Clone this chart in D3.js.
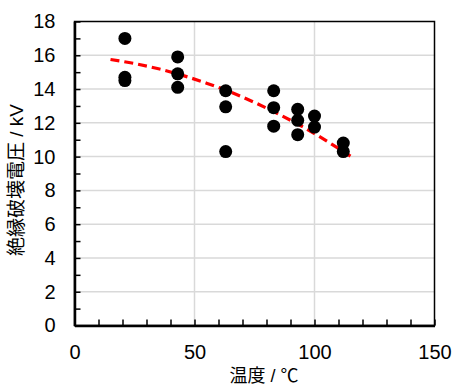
<!DOCTYPE html>
<html>
<head>
<meta charset="utf-8">
<script src="https://cdn.jsdelivr.net/npm/d3@7"></script>
<style>
  body { margin: 0; background: #fff; }
  svg { display: block; }
  text { font-family: "Liberation Sans", Arial, "Noto Sans CJK JP", sans-serif; fill: #000; }
  .cjk { font-family: "Liberation Sans", "Noto Sans CJK JP", sans-serif; }
</style>
</head>
<body>
<div id="chart"></div>
<script>
// measured points: temperature (C) vs breakdown voltage (kV)
const temps    = [21, 21, 21, 43, 43, 43, 63, 63, 63, 83, 83, 83, 93, 93, 93, 100, 100, 112, 112];
const voltages = [17.0, 14.7, 14.5, 15.9, 14.9, 14.1, 13.9, 12.95, 10.3, 13.9, 12.9, 11.8, 12.8, 12.15, 11.3, 12.4, 11.75, 10.8, 10.3];

// fitted trend
const trendX = [15, 25, 35, 45, 55, 65, 75, 85, 95, 105, 115];
const trendY = [15.75, 15.51, 15.2, 14.81, 14.35, 13.82, 13.21, 12.52, 11.77, 10.93, 10.03];

const xTicks = [0, 50, 100, 150];
const yTicks = [0, 2, 4, 6, 8, 10, 12, 14, 16, 18];

const xTitle = "温度 / ℃";
const yTitle = "絶縁破壊電圧 / kV";

const W = 466, H = 392;
const margin = {top: 21.5, right: 31.5, bottom: 66.5, left: 74.5},
    width = W - margin.left - margin.right,
    height = H - margin.top - margin.bottom;

let svg = d3.select("#chart")
    .append("svg")
    .attr("width", W)
    .attr("height", H);

let graph = svg.append("g")
    .attr("transform", "translate(" + margin.left + "," + margin.top + ")");

let xScale = d3.scaleLinear().domain([0, 150]).range([0, width]);
let yScale = d3.scaleLinear().domain([0, 18]).range([height, 0]);

// gridlines
graph.append("g")
    .selectAll("line.hgrid")
    .data(yTicks.filter(d => d > 0 && d < 18))
    .join("line")
    .attr("x1", 0).attr("x2", width)
    .attr("y1", d => yScale(d)).attr("y2", d => yScale(d))
    .attr("stroke", "#d9d9d9").attr("stroke-width", 1.5);

graph.append("g")
    .selectAll("line.vgrid")
    .data(xTicks.filter(d => d > 0 && d < 150))
    .join("line")
    .attr("x1", d => xScale(d)).attr("x2", d => xScale(d))
    .attr("y1", 0).attr("y2", height)
    .attr("stroke", "#d9d9d9").attr("stroke-width", 1.5);

// plot border
graph.append("rect")
    .attr("width", width).attr("height", height)
    .attr("fill", "none").attr("stroke", "#000").attr("stroke-width", 1.5);

// minor ticks
graph.append("g")
    .attr("transform", "translate(0," + height + ")")
    .call(d3.axisBottom(xScale).tickValues(d3.range(0, 151, 10)).tickSize(-6).tickFormat(""))
    .call(g => g.select(".domain").remove())
    .call(g => g.selectAll("line").attr("stroke-width", 1.5));

graph.append("g")
    .call(d3.axisLeft(yScale).tickValues(d3.range(0, 19, 1)).tickSize(-6).tickFormat(""))
    .call(g => g.select(".domain").remove())
    .call(g => g.selectAll("line").attr("stroke-width", 1.5));

// main axes
let xAxis = graph.append("g")
    .attr("transform", "translate(0," + height + ")")
    .call(d3.axisBottom(xScale).tickValues(xTicks).tickSize(0).tickPadding(19).tickSizeOuter(0));
xAxis.select(".domain").attr("stroke-width", 2.5);
xAxis.selectAll("text").style("font-size", "20px");

let yAxis = graph.append("g")
    .call(d3.axisLeft(yScale).tickValues(yTicks).tickSize(0).tickPadding(19).tickSizeOuter(0));
yAxis.select(".domain").attr("stroke-width", 2.5);
yAxis.selectAll("text").style("font-size", "20px");

// trend line
let line = d3.line()
    .x((d, i) => xScale(d))
    .y((d, i) => yScale(trendY[i]))
    .curve(d3.curveMonotoneX);

graph.append("path")
    .attr("fill", "none")
    .attr("stroke", "#ff0000")
    .attr("stroke-width", 3.2)
    .attr("stroke-dasharray", "9,5")
    .attr("d", line(trendX));

// points
graph.append("g")
    .selectAll("circle")
    .data(temps)
    .join("circle")
    .attr("cx", d => xScale(d))
    .attr("cy", (d, i) => yScale(voltages[i]))
    .attr("r", 6.5)
    .attr("fill", "#000");

// axis titles
svg.append("text")
    .attr("class", "cjk")
    .attr("x", 264)
    .attr("y", 382)
    .attr("text-anchor", "middle")
    .style("font-size", "18px")
    .text(xTitle);

svg.append("text")
    .attr("class", "cjk")
    .attr("transform", "translate(23,180) rotate(-90)")
    .attr("text-anchor", "middle")
    .style("font-size", "19px")
    .text(yTitle);
</script>
</body>
</html>
